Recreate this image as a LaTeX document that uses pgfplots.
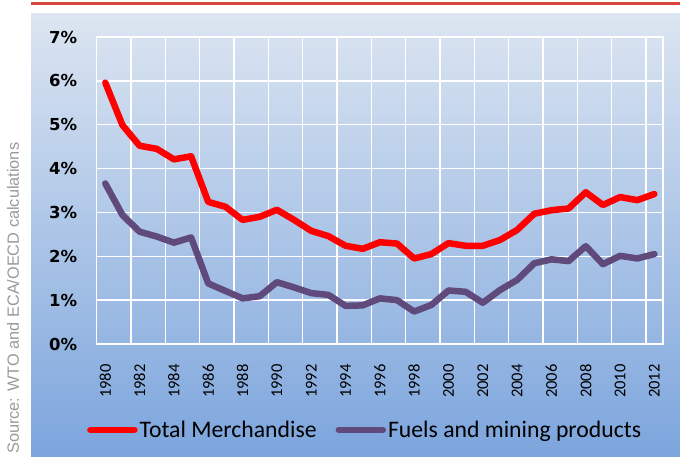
\documentclass[border=0pt]{standalone}
\usepackage{fontspec}
\setmainfont{Carlito}
\newfontfamily\ytickfont{DejaVu Sans}
\newfontfamily\srcfont{Liberation Sans}
\usepackage{pgfplots}
\pgfplotsset{compat=1.18}

\definecolor{merch}{RGB}{255,0,0}
\definecolor{fuel}{RGB}{96,74,123}
\definecolor{toprule}{RGB}{217,70,64}
\definecolor{bgtop}{RGB}{220,229,241}
\definecolor{bgbot}{RGB}{124,165,221}

\begin{document}
\begin{tikzpicture}[x=1pt,y=1pt]
\useasboundingbox (0,0) rectangle (680,457);
% panel background and red rule
\shade[top color=bgtop, bottom color=bgbot] (31,0) rectangle (680,443);
\fill[toprule] (31,451.5) rectangle (680,454.5);
\node[rotate=90, anchor=west, text=black!40, inner sep=0pt,
      font=\srcfont\fontsize{16.3}{16.3}\selectfont] at (13,3)
      {Source: WTO and ECA/OECD calculations};

\begin{axis}[
    at={(96.7pt,113pt)}, anchor=south west,
    scale only axis,
    width=566.3pt, height=307pt,
    xmin=1979.5, xmax=2012.5,
    ymin=0, ymax=7,
    xtick={1980,1982,...,2012},
    minor xtick={1981.5,1983.5,...,2011.5},
    ytick={0,1,...,7},
    major tick length=0pt, minor tick length=0pt,
    xminorgrids=true, ymajorgrids=true, xmajorgrids=false,
    grid style={white, line width=1.3pt},
    minor grid style={white, line width=1.3pt},
    axis line style={white, line width=1.3pt},
    /pgf/number format/assume math mode=true,
    xticklabel shift=17pt,
    xticklabel style={rotate=90, anchor=east,
        font=\fontsize{16.5}{16.5}\selectfont},
    xticklabel={\pgfmathprintnumber[1000 sep={}]{\tick}},
    yticklabel shift=16pt,
    yticklabel style={
        font=\ytickfont\bfseries\fontsize{16.5}{16.5}\selectfont},
    yticklabel={\pgfmathprintnumber{\tick}\%},
    legend columns=2,
    legend style={
        at={(axis description cs:0.474,-0.28)}, anchor=center,
        draw=none, fill=none,
        font=\fontsize{23.7}{23.7}\selectfont,
        /tikz/every odd column/.append style={column sep=0pt},
        /tikz/every even column/.append style={column sep=17pt},
    },
    legend image code/.code={
        \draw[#1, line cap=round] (0pt,0pt) -- (44pt,0pt);
    },
]

% Total Merchandise
\addplot[merch, line width=6.5pt, line join=round, line cap=round] coordinates {
    (1980,5.96) (1981,4.99) (1982,4.52) (1983,4.45) (1984,4.21)
    (1985,4.28) (1986,3.24) (1987,3.13) (1988,2.83) (1989,2.90)
    (1990,3.06) (1991,2.83) (1992,2.58) (1993,2.46) (1994,2.24)
    (1995,2.17) (1996,2.32) (1997,2.29) (1998,1.95) (1999,2.05)
    (2000,2.30) (2001,2.24) (2002,2.24) (2003,2.37) (2004,2.60)
    (2005,2.97) (2006,3.05) (2007,3.09) (2008,3.46) (2009,3.17)
    (2010,3.35) (2011,3.28) (2012,3.42)
};
\addlegendentry{Total Merchandise}

% Fuels and mining products
\addplot[fuel, line width=6.5pt, line join=round, line cap=round] coordinates {
    (1980,3.66) (1981,2.94) (1982,2.56) (1983,2.45) (1984,2.31)
    (1985,2.43) (1986,1.38) (1987,1.21) (1988,1.04) (1989,1.09)
    (1990,1.41) (1991,1.29) (1992,1.16) (1993,1.12) (1994,0.87)
    (1995,0.88) (1996,1.04) (1997,1.00) (1998,0.74) (1999,0.89)
    (2000,1.22) (2001,1.19) (2002,0.94) (2003,1.23) (2004,1.46)
    (2005,1.84) (2006,1.93) (2007,1.89) (2008,2.23) (2009,1.82)
    (2010,2.01) (2011,1.95) (2012,2.05)
};
\addlegendentry{Fuels and mining products}

\end{axis}
\end{tikzpicture}
\end{document}
